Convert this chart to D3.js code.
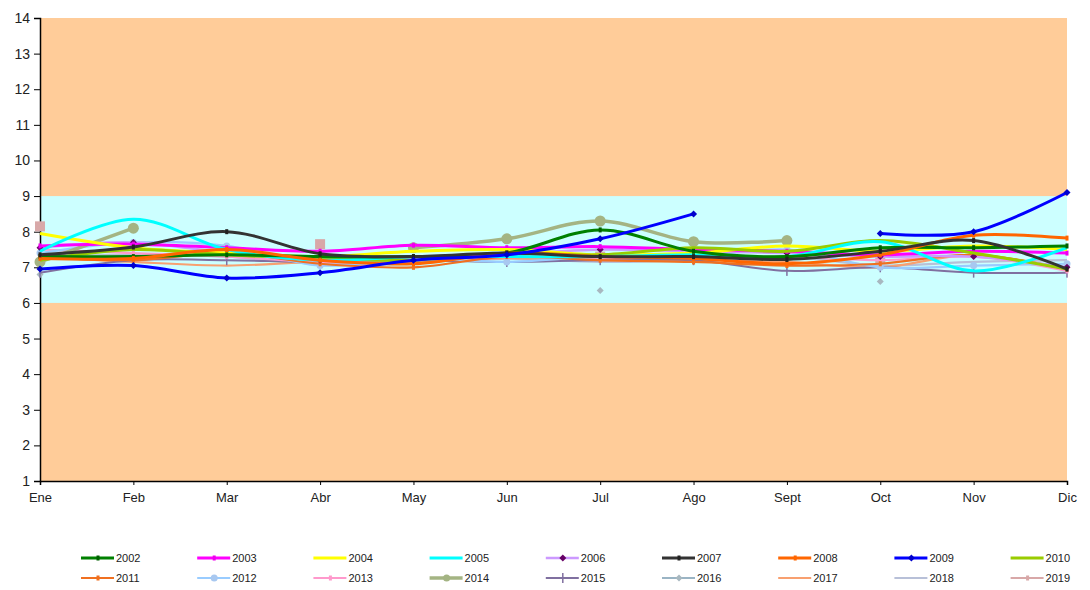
<!DOCTYPE html>
<html><head><meta charset="utf-8">
<script src="https://cdn.jsdelivr.net/npm/d3@7"></script>
<style>
body{margin:0;background:#fff;}
text{font-family:"Liberation Sans",Arial,sans-serif;}
</style></head>
<body><svg id="c" width="1090" height="590"></svg>
<script>
const months = ["Ene","Feb","Mar","Abr","May","Jun","Jul","Ago","Sept","Oct","Nov","Dic"];
const yTicks = [1,2,3,4,5,6,7,8,9,10,11,12,13,14];
const bandLow = 6, bandHigh = 9;
const years = ["2002","2003","2004","2005","2006","2007","2008","2009","2010","2011","2012","2013","2014","2015","2016","2017","2018","2019"];
const v2002 = [7.3,7.3,7.35,7.3,7.3,7.4,8.05,7.45,7.3,7.55,7.55,7.6];
const v2003 = [7.6,7.65,7.55,7.45,7.62,7.55,7.58,7.5,7.45,7.35,7.45,7.4];
const v2004 = [7.95,7.55,7.4,7.3,7.45,7.5,7.35,7.4,7.6,7.45,7.6,7.5];
const v2005 = [7.45,8.35,7.5,7.2,7.3,7.3,7.3,7.35,7.3,7.72,6.9,7.55];
const v2006 = [7.55,7.7,7.4,7.2,7.2,7.35,7.5,7.45,7.4,7.3,7.3,7.0];
const v2007 = [7.35,7.57,8.0,7.38,7.3,7.4,7.3,7.3,7.22,7.45,7.75,6.95];
const v2008 = [7.25,7.25,7.5,7.2,7.1,7.4,7.3,7.25,7.1,7.35,7.9,7.82];
const v2009 = [6.95,7.05,6.7,6.85,7.2,7.35,7.8,8.5,null,7.95,8.0,9.1];
const v2010 = [7.2,7.5,7.35,7.25,7.2,7.4,7.35,7.55,7.45,7.75,7.4,6.95];
const v2011 = [7.3,7.2,7.4,7.1,7.0,7.3,7.2,7.15,7.05,7.1,7.35,6.95];
const v2012 = [7.4,7.7,7.6,7.05,7.25,7.15,7.3,7.3,7.5,7.0,7.05,7.1];
const v2013 = [7.5,7.4,7.3,7.15,7.2,7.3,7.25,7.3,7.3,7.2,7.3,6.9];
const v2014 = [7.15,8.1,null,null,7.55,7.8,8.3,7.72,7.75,null,null,null];
const v2015 = [6.85,7.2,7.2,7.15,7.2,7.15,7.2,7.2,6.9,7.0,6.85,6.85];
const v2016 = [6.8,null,null,null,null,null,6.35,null,null,6.6,null,null];
const v2017 = [7.3,7.15,7.05,7.15,7.15,7.25,7.2,7.2,7.15,7.0,7.35,6.95];
const v2018 = [7.3,7.35,7.3,7.1,7.15,7.25,7.15,7.2,7.3,7.05,7.15,7.2];
const v2019 = [8.15,null,null,7.65,null,null,7.3,null,null,7.25,null,null];
const seriesValues = [v2002,v2003,v2004,v2005,v2006,v2007,v2008,v2009,v2010,v2011,v2012,v2013,v2014,v2015,v2016,v2017,v2018,v2019];

const colors = ["#008000","#FF00FF","#FFFF00","#00FFFF","#CC99FF","#333333","#FF6600","#0000FF","#99CC00","#F07020","#99CCFF","#FF99CC","#A4B483","#8070A0","#9AB4C4","#F8A070","#B8C0D8","#D8A8A8"];
const widths = [3,3,3,3,2.5,3,3,3,3,2.2,2.2,2.2,3.5,2,2,2.2,2.2,2];
const markers = ["dash","dash","none","none","diamond","dash","dash","diamond","none","dash","circle","dash","circle","tick","diamond","none","none","square"];
const markerColors = ["#006000","#EE00EE","#FFFF00","#00FFFF","#660066","#222222","#FF6600","#0000CC","#99CC00","#F07020","#A8C8F0","#FF99CC","#A4B483","#8070A0","#A8B8C0","#F8A070","#B8C0D8","#D8A8A8"];

const svg = d3.select("#c");
const L = 40, R = 1067, T = 18, B = 481;
const x = d3.scalePoint().domain(months).range([L, R]);
const y = d3.scaleLinear().domain([1,14]).range([B, T]);

svg.append("rect").attr("x",L).attr("y",T).attr("width",R-L).attr("height",B-T).attr("fill","#FFCC99");
svg.append("rect").attr("x",L).attr("y",y(bandHigh)).attr("width",R-L).attr("height",y(bandLow)-y(bandHigh)).attr("fill","#CCFFFF");

const yAxis = svg.append("g").attr("transform",`translate(${L},0)`)
  .call(d3.axisLeft(y).tickValues(yTicks).tickSize(6).tickFormat(d3.format("d")));
yAxis.selectAll("text").attr("font-size",14).attr("fill","#222").attr("x",-10);
yAxis.selectAll("line").attr("stroke","#000");
yAxis.select(".domain").attr("stroke","#000").attr("stroke-width",1.5);

const xAxis = svg.append("g").attr("transform",`translate(0,${B})`)
  .call(d3.axisBottom(x).tickSize(4));
xAxis.selectAll("text").attr("font-size",13).attr("fill","#222").attr("dy","1.1em");
xAxis.selectAll("line").attr("stroke","#000");
xAxis.select(".domain").attr("stroke","#000").attr("stroke-width",1.5);

const line = d3.line().defined(d => d[1] != null)
  .x(d => x(d[0])).y(d => y(d[1])).curve(d3.curveCardinal.tension(0));

const drawOrder = [17,16,15,14,13,11,10,9,12,4,1,2,8,3,0,6,5,7];
function drawMarker(g, type, cx, cy, col, big) {
  if (type === "circle") g.append("circle").attr("cx",cx).attr("cy",cy).attr("r",big?5.5:3.5).attr("fill",col);
  else if (type === "square") g.append("rect").attr("x",cx-5).attr("y",cy-5).attr("width",10).attr("height",10).attr("fill",col);
  else if (type === "diamond") g.append("path").attr("d",`M${cx},${cy-3.5}L${cx+3.5},${cy}L${cx},${cy+3.5}L${cx-3.5},${cy}Z`).attr("fill",col);
  else if (type === "dash") g.append("rect").attr("x",cx-1.5).attr("y",cy-2.5).attr("width",3).attr("height",5).attr("fill",col);
  else if (type === "tick") g.append("rect").attr("x",cx-0.75).attr("y",cy-5).attr("width",1.5).attr("height",10).attr("fill",col);
}
drawOrder.forEach(i => {
  const pts = months.map((m,j) => [m, seriesValues[i][j]]);
  const g = svg.append("g");
  g.append("path").attr("d", line(pts)).attr("fill","none").attr("stroke",colors[i]).attr("stroke-width",widths[i]).attr("stroke-linejoin","round");
  pts.forEach(p => { if (p[1] != null) drawMarker(g, markers[i], x(p[0]), y(p[1]), markerColors[i], i===12); });
});

// legend
const leg = svg.append("g");
years.forEach((yr,i) => {
  const row = Math.floor(i/9), col = i%9;
  const tx = 116 + col*116.2, ty = 558 + row*20;
  leg.append("line").attr("x1",tx-35).attr("x2",tx-2).attr("y1",ty).attr("y2",ty).attr("stroke",colors[i]).attr("stroke-width",Math.min(widths[i],3.5));
  if (markers[i] !== "none") {
    const mg = leg.append("g");
    const mt = markers[i] === "square" ? "dash" : markers[i];
    drawMarker(mg, mt, tx-18, ty, markerColors[i], false);
  }
  leg.append("text").attr("x",tx).attr("y",ty+4).attr("font-size",11).attr("fill","#222").text(yr);
});
</script></body></html>
